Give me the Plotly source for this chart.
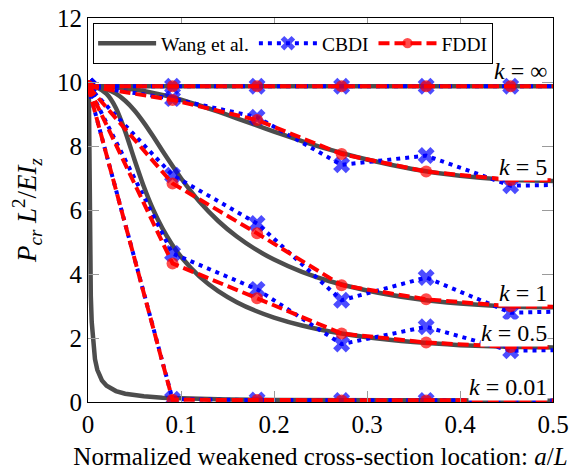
import plotly.graph_objects as go

# Analytical reference curves (Wang et al.): P_cr L^2 / EI_z vs a/L
a_ref = [0, 0.005, 0.01, 0.02, 0.03, 0.04, 0.05, 0.06, 0.07, 0.08, 0.09, 0.10,
         0.12, 0.14, 0.16, 0.18, 0.20, 0.23, 0.26, 0.30, 0.35, 0.40, 0.45, 0.50]
wang_k5 = [9.870, 9.869, 9.866, 9.853, 9.833, 9.803, 9.765, 9.717, 9.661, 9.597, 9.525, 9.445,
           9.268, 9.073, 8.867, 8.657, 8.450, 8.154, 7.885, 7.577, 7.276, 7.067, 6.945, 6.905]
wang_k1 = [9.870, 9.864, 9.848, 9.775, 9.635, 9.415, 9.111, 8.732, 8.303, 7.853, 7.411, 6.993,
           6.256, 5.656, 5.170, 4.775, 4.451, 4.067, 3.774, 3.483, 3.234, 3.076, 2.989, 2.961]
wang_k05 = [9.870, 9.859, 9.822, 9.628, 9.189, 8.457, 7.573, 6.733, 6.017, 5.427, 4.941, 4.539,
            3.917, 3.463, 3.119, 2.851, 2.638, 2.391, 2.205, 2.025, 1.872, 1.777, 1.724, 1.707]
a_ref_001 = [0, 0.0005, 0.001, 0.0015, 0.002, 0.003, 0.004, 0.005, 0.0075, 0.01, 0.015,
             0.02, 0.03, 0.04, 0.06, 0.08, 0.1, 0.15, 0.2, 0.3, 0.4, 0.5]
wang_k001 = [9.870, 9.860, 9.503, 6.627, 4.983, 3.329, 2.500, 2.002, 1.339, 1.007, 0.674,
             0.508, 0.342, 0.260, 0.177, 0.135, 0.111, 0.078, 0.062, 0.047, 0.042, 0.040]
a_inf = [0, 0.5]
wang_kinf = [9.870, 9.870]

# Discrete models, evaluated at a/L = i/11 (last entry closes the line at a/L = 0.5)
a_fe = [0, 0.0909, 0.1818, 0.2727, 0.3636, 0.4545, 0.5]
cbdi = {
    "inf": [9.87, 9.87, 9.87, 9.87, 9.87, 9.87, 9.87],
    "5": [9.87, 9.48, 8.90, 7.41, 7.70, 6.76, 6.78],
    "1": [9.87, 7.09, 5.58, 3.18, 3.89, 2.79, 2.82],
    "0.5": [9.87, 4.64, 3.52, 1.81, 2.35, 1.60, 1.62],
    "0.01": [9.87, 0.09, 0.06, 0.05, 0.05, 0.05, 0.05],
}
fddi = {
    "inf": [9.87, 9.87, 9.87, 9.87, 9.87, 9.87, 9.87],
    "5": [9.87, 9.44, 8.81, 7.75, 7.20, 6.94, 6.93],
    "1": [9.87, 6.83, 5.27, 3.65, 3.21, 2.99, 2.98],
    "0.5": [9.87, 4.33, 3.24, 2.14, 1.86, 1.72, 1.71],
    "0.01": [9.87, 0.07, 0.06, 0.05, 0.05, 0.05, 0.05],
}
curve_labels = ["∞", "5", "1", "0.5", "0.01"]
label_y = [10.35, 7.35, 3.40, 2.15, 0.47]

x_ticks = [0, 0.1, 0.2, 0.3, 0.4, 0.5]
x_tick_text = ["0", "0.1", "0.2", "0.3", "0.4", "0.5"]
y_ticks = [0, 2, 4, 6, 8, 10, 12]

GRAY = "#4d4d4d"
BLUE = "#0000ff"
RED = "#ff0000"
FONT = "Liberation Serif, Times New Roman, DejaVu Serif, serif"

fig = go.Figure()

wang_sets = [(a_inf, wang_kinf), (a_ref, wang_k5), (a_ref, wang_k1),
             (a_ref, wang_k05), (a_ref_001, wang_k001)]
for i, (xs, ys) in enumerate(wang_sets):
    fig.add_trace(go.Scatter(
        x=xs, y=ys, mode="lines",
        line=dict(color=GRAY, width=4.5, shape="spline" if i in (1, 2, 3) else "linear",
                  smoothing=0.6),
        name="Wang et al.", legendgroup="wang", showlegend=(i == 0)))

marker_sizes = [15, 15, 15, 15, 15, 15, 0]
for i, key in enumerate(cbdi):
    fig.add_trace(go.Scatter(
        x=a_fe, y=cbdi[key], mode="lines+markers",
        line=dict(color=BLUE, width=4, dash="4px,5px"),
        marker=dict(symbol="x", size=marker_sizes, color=BLUE,
                    line=dict(width=0)),
        name="CBDI", legendgroup="cbdi", showlegend=(i == 0)))

circle_sizes = [12, 12, 12, 12, 12, 12, 0]
for i, key in enumerate(fddi):
    fig.add_trace(go.Scatter(
        x=a_fe, y=fddi[key], mode="lines+markers",
        line=dict(color=RED, width=4, dash="11px,5px"),
        marker=dict(symbol="circle", size=circle_sizes, color=RED,
                    line=dict(width=0)),
        name="FDDI", legendgroup="fddi", showlegend=(i == 0)))

for lab, ly in zip(curve_labels, label_y):
    fig.add_annotation(
        x=0.4945, y=ly, xref="x", yref="y", xanchor="right", yanchor="middle",
        text=f"<i>k</i> = {lab}", showarrow=False,
        font=dict(family=FONT, size=24, color="black"),
        bgcolor="white" if lab != "∞" else "rgba(0,0,0,0)", borderpad=0)

axis_common = dict(
    showgrid=False, zeroline=False, showline=True, linecolor="black", linewidth=1.2,
    mirror="ticks", ticks="inside", ticklen=11, tickwidth=1.2, tickcolor="#9a9a9a",
    tickfont=dict(family=FONT, size=25, color="black"),
)
fig.update_xaxes(
    range=[0, 0.5], tickvals=x_ticks, ticktext=x_tick_text,
    title=dict(text="Normalized weakened cross-section location: <i>a</i>/<i>L</i>",
               font=dict(family=FONT, size=25, color="black"), standoff=10),
    **axis_common)
fig.update_yaxes(
    range=[0, 12], tickvals=y_ticks,
    title=dict(text="<i>P<sub>cr</sub> L</i><sup>2</sup>/<i>EI<sub>z</sub></i>",
               font=dict(family=FONT, size=27, color="black"), standoff=12),
    **axis_common)

fig.update_layout(
    width=571, height=471,
    margin=dict(l=88, r=18, t=18, b=69, autoexpand=False),
    plot_bgcolor="white", paper_bgcolor="white",
    showlegend=True,
    legend=dict(orientation="h", x=0.011, y=0.987, xanchor="left", yanchor="top",
                bgcolor="white", bordercolor="black", borderwidth=1,
                font=dict(family=FONT, size=19.5, color="black"),
                itemwidth=58, tracegroupgap=0),
    font=dict(family=FONT),
)

fig.write_html("out.html")
